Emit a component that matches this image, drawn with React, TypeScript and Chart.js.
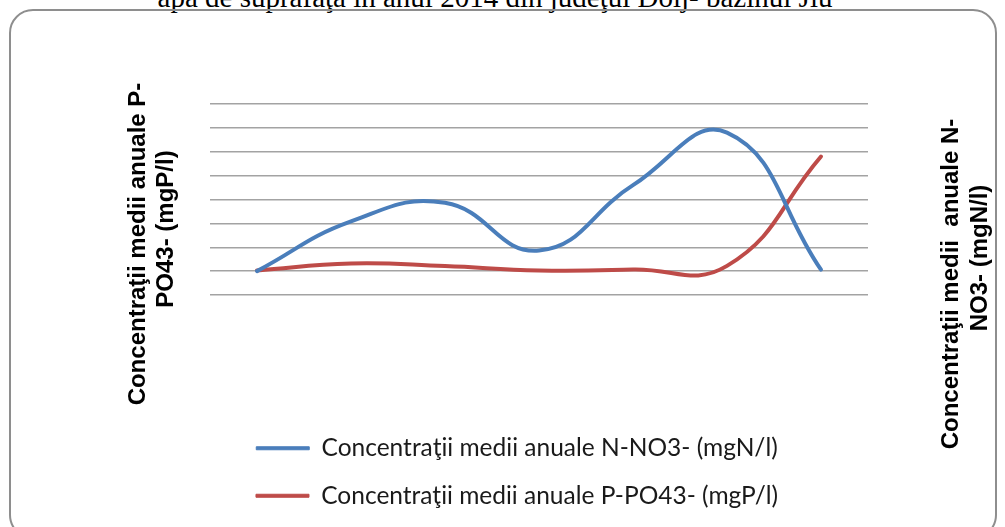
import React, { useEffect, useRef } from "react";
import { Chart, registerables } from "chart.js";

Chart.register(...registerables);

// ---- data ----
const categories = ["Punct 1", "Punct 2", "Punct 3", "Punct 4", "Punct 5", "Punct 6", "Punct 7"];
const seriesNames = [
  "Concentraţii medii anuale N-NO3- (mgN/l)",
  "Concentraţii medii anuale P-PO43- (mgP/l)",
];
const nNO3 = [0.5, 1.54, 1.93, 0.93, 2.3, 3.4, 0.53];
const pPO4 = [0.103, 0.132, 0.121, 0.103, 0.107, 0.122, 0.58];
const pAxisRange = [0, 0.8, 0.1]; // min, max, step (left axis, hidden labels)
const nAxisRange = [0, 4, 0.5]; // min, max, step (right axis, hidden labels)
const leftTitleLines = ["Concentraţii medii anuale P-", "PO43- (mgP/l)"];
const rightTitleLines = ["Concentraţii medii  anuale N-", "NO3- (mgN/l)"];
const chartTitle = "apa de suprafaţă în anul 2014 din judeţul Dolj- bazinul Jiu";

const BLUE = "#4A7EBB";
const RED = "#BE4B48";

const axisTitlePlugin = {
  id: "axisTitles",
  afterDraw(chart: any) {
    const { ctx, chartArea } = chart;
    ctx.save();
    ctx.fillStyle = "#000";
    ctx.font = "bold 24px 'Liberation Sans', Arial, sans-serif";
    ctx.textAlign = "center";
    ctx.textBaseline = "middle";
    const draw = (text: string, x: number, y: number) => {
      ctx.save();
      ctx.translate(x, y);
      ctx.rotate(-Math.PI / 2);
      ctx.fillText(text, 0, 0);
      ctx.restore();
    };
    draw(leftTitleLines[0], chartArea.left - 72, 244);
    draw(leftTitleLines[1], chartArea.left - 44, 229);
    draw(rightTitleLines[0], chartArea.right + 83, 284);
    draw(rightTitleLines[1], chartArea.right + 112, 258);
    ctx.restore();
  },
};

export default function App() {
  const canvasRef = useRef<HTMLCanvasElement | null>(null);

  useEffect(() => {
    if (!canvasRef.current) return;
    const chart = new Chart(canvasRef.current, {
      type: "line",
      data: {
        labels: categories,
        datasets: [
          {
            label: seriesNames[0],
            data: nNO3,
            yAxisID: "yN",
            borderColor: BLUE,
            backgroundColor: BLUE,
            borderWidth: 4,
            borderCapStyle: "round",
            pointRadius: 0,
            tension: 0.45,
            fill: false,
          },
          {
            label: seriesNames[1],
            data: pPO4,
            yAxisID: "yP",
            borderColor: RED,
            backgroundColor: RED,
            borderWidth: 4,
            borderCapStyle: "round",
            pointRadius: 0,
            tension: 0.45,
            fill: false,
          },
        ],
      },
      options: {
        animation: false,
        responsive: false,
        maintainAspectRatio: false,
        devicePixelRatio: 1,
        layout: { padding: { top: 104, left: 29, right: 0, bottom: 9 } },
        plugins: {
          title: { display: false },
          tooltip: { enabled: false },
          legend: {
            display: true,
            position: "bottom",
            align: "center",
            labels: {
              boxWidth: 53,
              boxHeight: 3,
              padding: 23,
              color: "#1a1a1a",
              font: { family: "Lato, 'Open Sans', sans-serif", size: 24.5 },
              generateLabels: (c: any) =>
                c.data.datasets.map((ds: any, i: number) => ({
                  text: ds.label,
                  fillStyle: ds.borderColor,
                  strokeStyle: ds.borderColor,
                  lineWidth: 1,
                  hidden: false,
                  datasetIndex: i,
                  fontColor: "#1a1a1a",
                })),
            },
          },
        },
        scales: {
          x: {
            type: "category",
            offset: true,
            grid: { display: false },
            border: { display: false },
            ticks: { display: false },
            afterFit: (s: any) => {
              s.height = 118;
            },
          },
          yP: {
            type: "linear",
            position: "left",
            min: pAxisRange[0],
            max: pAxisRange[1],
            ticks: { display: false, stepSize: pAxisRange[2] },
            grid: { color: "#a3a3a3", lineWidth: 1.5, drawTicks: false },
            border: { display: false },
            afterFit: (s: any) => {
              s.width = 181;
            },
          },
          yN: {
            type: "linear",
            position: "right",
            min: nAxisRange[0],
            max: nAxisRange[1],
            ticks: { display: false, stepSize: nAxisRange[2] },
            grid: { display: false },
            border: { display: false },
            afterFit: (s: any) => {
              s.width = 137;
            },
          },
        },
      },
      plugins: [axisTitlePlugin],
    });
    return () => chart.destroy();
  }, []);

  return (
    <div
      style={{
        position: "fixed",
        left: 0,
        top: 0,
        width: 1005,
        height: 527,
        overflow: "hidden",
        background: "#fff",
      }}
    >
      <div
        style={{
          position: "absolute",
          left: 0,
          top: -17,
          width: 990,
          textAlign: "center",
          fontFamily: "'Liberation Serif', 'Times New Roman', serif",
          fontSize: 29,
          lineHeight: "29px",
          color: "#000",
          whiteSpace: "nowrap",
        }}
      >
        {chartTitle}
      </div>
      <div
        style={{
          position: "absolute",
          left: 9,
          top: 9,
          width: 988,
          height: 530,
          border: "2px solid #8e8e8e",
          borderRadius: 24,
          boxSizing: "border-box",
        }}
      />
      <canvas
        ref={canvasRef}
        width={1005}
        height={527}
        style={{ position: "absolute", left: 0, top: 0, width: 1005, height: 527 }}
      />
    </div>
  );
}
